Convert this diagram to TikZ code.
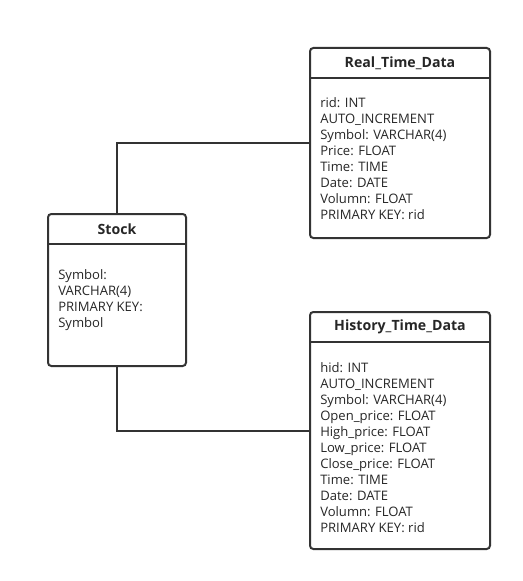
\documentclass[tikz,border=0pt]{standalone}
\usepackage{fontspec}
\setmainfont{Open Sans}
\begin{document}
\begin{tikzpicture}[x=0.75pt,y=-0.75pt,
  tbl/.style={draw=black!80,line width=1.5pt,rounded corners=2.5pt},
  sep/.style={draw=black!80,line width=1.5pt},
  conn/.style={draw=black!80,line width=1.5pt},
  title/.style={font=\fontsize{10.6}{12}\selectfont\bfseries,text=black!85,inner sep=0pt},
  body/.style={font=\fontsize{9.8}{12}\selectfont,text=black!85,align=left,anchor=north west,inner sep=0pt}]
\useasboundingbox (0,0) rectangle (522,581);
% Real_Time_Data
\draw[tbl] (310,48) rectangle (490,238);
\draw[sep] (310,78) -- (490,78);
\node[title] (rt) at (400,63) {Real\_Time\_Data};
\node[body] (rtb) at (320,97) {rid: INT\\AUTO\_INCREMENT\\Symbol: VARCHAR(4)\\Price: FLOAT\\Time: TIME\\Date: DATE\\Volumn: FLOAT\\PRIMARY KEY: rid};
% Stock
\draw[tbl] (48,214) rectangle (186,366);
\draw[sep] (48,244) -- (186,244);
\node[title] (st) at (117,229) {Stock};
\node[body] (stb) at (58,269) {Symbol:\\VARCHAR(4)\\PRIMARY KEY:\\Symbol};
% History_Time_Data
\draw[tbl] (310,312) rectangle (490,549);
\draw[sep] (310,342) -- (490,342);
\node[title] (ht) at (400,327) {History\_Time\_Data};
\node[body] (htb) at (320,362) {hid: INT\\AUTO\_INCREMENT\\Symbol: VARCHAR(4)\\Open\_price: FLOAT\\High\_price: FLOAT\\Low\_price: FLOAT\\Close\_price: FLOAT\\Time: TIME\\Date: DATE\\Volumn: FLOAT\\PRIMARY KEY: rid};
% connectors
\coordinate (s1) at (117,214);
\coordinate (r1) at (310,143);
\coordinate (s2) at (117,366);
\coordinate (h1) at (310,431);
\draw[conn] (s1) |- (r1);
\draw[conn] (s2) |- (h1);
\end{tikzpicture}
\end{document}
